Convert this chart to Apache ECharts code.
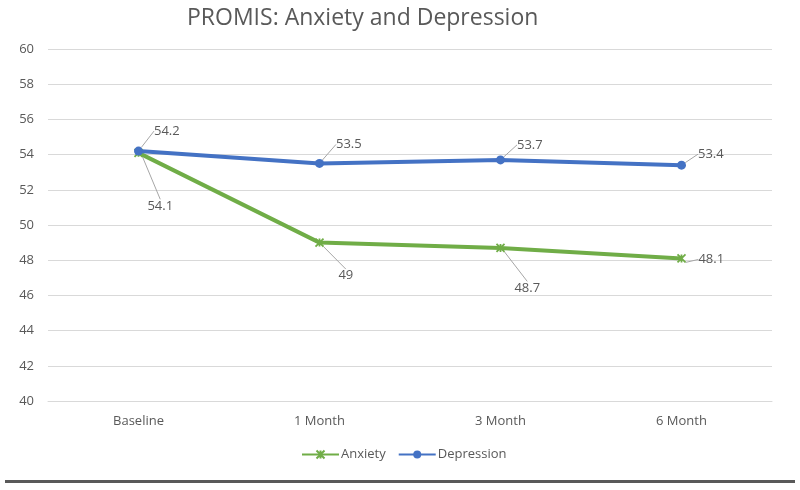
<!DOCTYPE html>
<html><head><meta charset="utf-8">
<script src="https://cdn.jsdelivr.net/npm/echarts@6/dist/echarts.min.js"></script>
<style>html,body{margin:0;padding:0;background:#fff}#c{width:800px;height:490px}
#rule{position:absolute;left:5px;top:480px;width:790px;height:3px;background:#595959}</style>
</head><body><div id="c"></div><div id="rule"></div>
<script>
const categories = ['Baseline', '1 Month', '3 Month', '6 Month'];
const anxiety = [54.1, 49, 48.7, 48.1];
const depression = [54.2, 53.5, 53.7, 53.4];
const yTicks = { min: 40, max: 60, interval: 2 };

// label offsets (pixels) relative to default 'right' position
const anxOff = [[-1, 53], [9, 33], [4, 40], [7, 1]];
const depOff = [[6, -20], [7, -19], [7, -15], [7, -11]];

const font = '"Open Sans", "Noto Sans", sans-serif';
const txt = '#595959';
const chart = echarts.init(document.getElementById('c'));
const xMark = 'path://M0,0L10,10M10,0L0,10M5,0L5,10';

function mkSeries(name, data, color, symbol, size, offs) {
  return {
    name, type: 'line', data,
    symbol, symbolSize: size, showSymbol: true,
    lineStyle: { color, width: 4 },
    itemStyle: { color, borderColor: color, borderWidth: symbol === 'circle' ? 0 : 1.8 },
    label: { show: true, position: 'right', distance: 5, color: txt, fontSize: 13, fontFamily: font },
    labelLine: { show: true, lineStyle: { color: '#a6a6a6', width: 1 } },
    labelLayout: function (p) { const o = offs[p.dataIndex]; return { dx: o[0], dy: o[1] }; },
    emphasis: { disabled: true },
    animation: false
  };
}

chart.setOption({
  animation: false,
  title: { text: 'PROMIS: Anxiety and Depression', left: 182, top: 2,
    textStyle: { color: txt, fontSize: 23, fontWeight: 'normal', fontFamily: font } },
  grid: { left: 48, right: 28, top: 49, bottom: 89 },
  legend: { bottom: 24, left: 296, itemWidth: 37, itemHeight: 10, itemGap: 12,
    textStyle: { color: txt, fontSize: 13, fontFamily: font, padding: [0, 0, 0, -3] },
    data: ['Anxiety', 'Depression'] },
  xAxis: { type: 'category', data: categories,
    axisLine: { lineStyle: { color: '#d9d9d9' } }, axisTick: { show: false },
    axisLabel: { color: txt, fontSize: 13, fontFamily: font, margin: 14 } },
  yAxis: { type: 'value', min: yTicks.min, max: yTicks.max, interval: yTicks.interval,
    axisLine: { show: false }, axisTick: { show: false },
    splitLine: { lineStyle: { color: '#d9d9d9' } },
    axisLabel: { color: txt, fontSize: 13, fontFamily: font, margin: 14 } },
  series: [
    mkSeries('Anxiety', anxiety, '#70AD47', xMark, 8, anxOff),
    mkSeries('Depression', depression, '#4472C4', 'circle', 9, depOff)
  ]
});
</script></body></html>
